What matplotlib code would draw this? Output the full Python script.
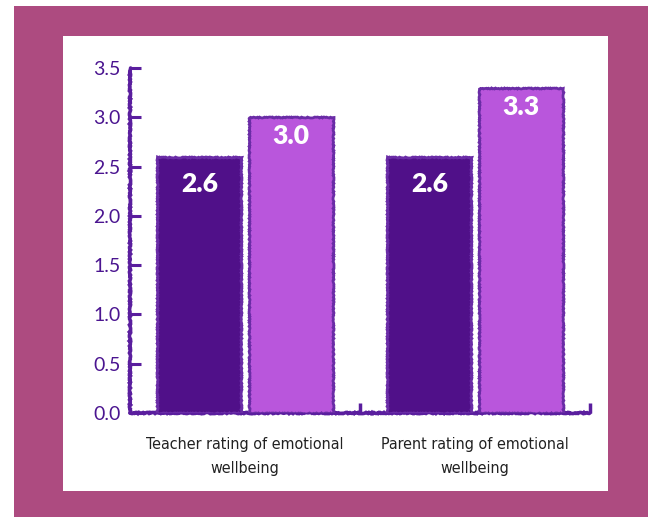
import matplotlib
matplotlib.use("Agg")
import matplotlib.pyplot as plt
import matplotlib.patches as mpatches
import numpy as np

categories = ["Teacher rating of emotional\nwellbeing", "Parent rating of emotional\nwellbeing"]
series_a = [2.6, 2.6]
series_b = [3.0, 3.3]
yticks = [0.0, 0.5, 1.0, 1.5, 2.0, 2.5, 3.0, 3.5]
ytick_labels = ["0.0", "0.5", "1.0", "1.5", "2.0", "2.5", "3.0", "3.5"]

W, H = 648, 517
fig = plt.figure(figsize=(W / 100, H / 100), dpi=100, facecolor="white")

# mauve frame and white panel
fig.patches.append(mpatches.Rectangle((14 / W, 0), 1 - 14 / W, 1 - 6 / H,
                                      transform=fig.transFigure, facecolor="#AD4B80",
                                      edgecolor="none", zorder=-3))
fig.patches.append(mpatches.Rectangle((63 / W, 1 - 491 / H), (608 - 63) / W, (491 - 36) / H,
                                      transform=fig.transFigure, facecolor="white",
                                      edgecolor="none", zorder=-2))

ax = fig.add_axes([130 / W, 1 - 413 / H, (590 - 130) / W, (413 - 68) / H])
ax.set_facecolor("none")
ax.set_zorder(1)

dark = "#501089"
light = "#B956DC"
edge = "#6A2CA6"
axis_col = "#5A1E9E"

x = np.arange(len(categories))
w = 0.365
off = 0.198
bars_a = ax.bar(x - off, series_a, width=w, color=dark, edgecolor=edge, linewidth=2.0, zorder=3)
bars_b = ax.bar(x + off, series_b, width=w, color=light, edgecolor=edge, linewidth=2.0, zorder=3)
for b in list(bars_a) + list(bars_b):
    b.set_sketch_params(scale=0.5, length=3, randomness=4)

num_font = ["Lato", "DejaVu Sans"]
for bars, vals, dy in ((bars_a, series_a, -27), (bars_b, series_b, -19)):
    for b, v in zip(bars, vals):
        ax.annotate(f"{v:.1f}", (b.get_x() + b.get_width() / 2, v), xytext=(0, dy),
                    textcoords="offset pixels", ha="center", va="center",
                    color="white", fontsize=19, fontweight="heavy", family=num_font, zorder=5)

ax.set_xlim(-0.5, 1.5)
ax.set_ylim(0, 3.5)
for s in ("top", "right"):
    ax.spines[s].set_visible(False)
for s in ("left", "bottom"):
    ax.spines[s].set_color(axis_col)
    ax.spines[s].set_linewidth(2.6)
    ax.spines[s].set_sketch_params(scale=0.6, length=3, randomness=4)
    ax.spines[s].set_capstyle("round")

ax.set_yticks(yticks)
ax.set_yticklabels(ytick_labels, family=num_font, fontsize=14, color="#4B1590")
ax.tick_params(axis="y", direction="in", length=8, width=2.2, color=axis_col, pad=7)

ax.set_xticks(x)
ax.set_xticklabels(categories, family=["DejaVu Sans"], stretch="condensed",
                   fontsize=11.5, color="#222222", linespacing=1.8)
ax.tick_params(axis="x", length=0, pad=17)
ax.set_xticks([0.5, 1.5], minor=True)
ax.tick_params(axis="x", which="minor", direction="in", length=7, width=2.5, color=axis_col)

fig.savefig("out.png", dpi=100, facecolor="white")
